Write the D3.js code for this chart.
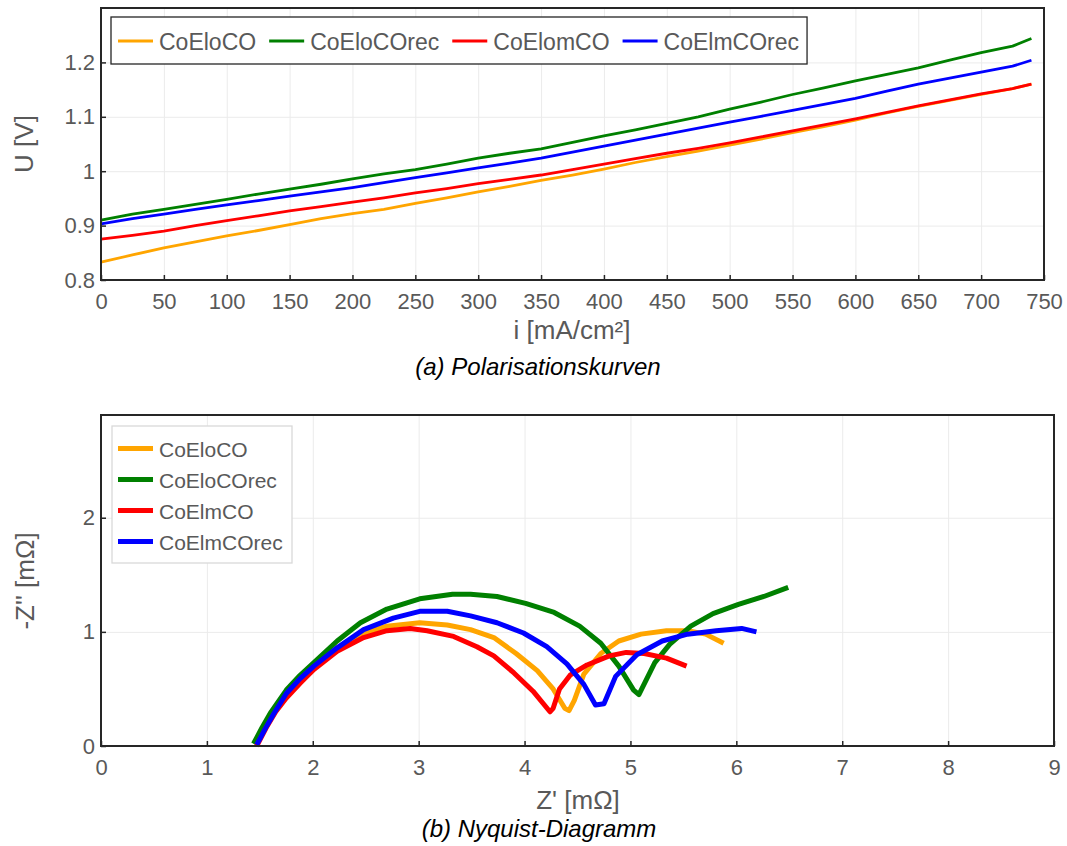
<!DOCTYPE html>
<html>
<head>
<meta charset="utf-8">
<script src="https://cdn.jsdelivr.net/npm/d3@7"></script>
<style>
  body { margin: 0; background: #fff; }
  svg { display: block; font-family: "Liberation Sans", Arial, sans-serif; }
</style>
</head>
<body>
<svg id="chart" width="1067" height="846"></svg>
<script>
// series names + colours
const names = ["CoEloCO", "CoEloCOrec", "CoElomCO", "CoElmCOrec"];
const names2 = ["CoEloCO", "CoEloCOrec", "CoElmCO", "CoElmCOrec"];
const colors = ["#ffa500", "#008000", "#ff0000", "#0000ff"];

// (a) polarisation curves, current density in mA/cm2
const iVals = [0, 25, 50, 75, 100, 125, 150, 175, 200, 225, 250, 275, 300, 325, 350, 375,
               400, 425, 450, 475, 500, 525, 550, 575, 600, 625, 650, 675, 700, 725, 740];
const uCoEloCO = [0.833, 0.846, 0.859, 0.870, 0.881, 0.891, 0.902, 0.913, 0.922, 0.930, 0.941, 0.951,
                  0.962, 0.972, 0.983, 0.993, 1.004, 1.016, 1.027, 1.037, 1.048, 1.059, 1.071, 1.082,
                  1.094, 1.107, 1.119, 1.130, 1.141, 1.152, 1.160];
const uCoEloCOrec = [0.910, 0.921, 0.930, 0.939, 0.948, 0.958, 0.967, 0.976, 0.986, 0.995, 1.003, 1.013,
                     1.024, 1.033, 1.041, 1.053, 1.065, 1.076, 1.088, 1.100, 1.114, 1.127, 1.141, 1.153,
                     1.166, 1.178, 1.190, 1.204, 1.218, 1.230, 1.244];
const uCoElomCO = [0.875, 0.882, 0.890, 0.900, 0.909, 0.918, 0.927, 0.935, 0.943, 0.951, 0.960, 0.968,
                   0.977, 0.985, 0.993, 1.003, 1.013, 1.023, 1.033, 1.042, 1.052, 1.063, 1.074, 1.085,
                   1.096, 1.108, 1.120, 1.131, 1.142, 1.152, 1.160];
const uCoElmCOrec = [0.903, 0.913, 0.921, 0.930, 0.938, 0.946, 0.954, 0.962, 0.970, 0.979, 0.988, 0.997,
                     1.006, 1.015, 1.024, 1.035, 1.046, 1.057, 1.068, 1.079, 1.090, 1.101, 1.112, 1.123,
                     1.134, 1.147, 1.160, 1.171, 1.182, 1.193, 1.204];
const xTicksA = [0, 50, 100, 150, 200, 250, 300, 350, 400, 450, 500, 550, 600, 650, 700, 750];
const yTicksA = [0.8, 0.9, 1.0, 1.1, 1.2];

// (b) nyquist, Z' and -Z'' in mOhm
const zReCoEloCO = [1.46, 1.55, 1.65, 1.75, 1.88, 2.01, 2.23, 2.45, 2.70, 3.01, 3.27, 3.49, 3.71, 3.92,
                    4.12, 4.27, 4.38, 4.42, 4.47, 4.56, 4.72, 4.89, 5.10, 5.34, 5.54, 5.71, 5.88];
const zImCoEloCO = [0.01, 0.17, 0.31, 0.43, 0.56, 0.68, 0.86, 0.98, 1.05, 1.08, 1.06, 1.02, 0.95, 0.81,
                    0.66, 0.50, 0.33, 0.31, 0.40, 0.63, 0.81, 0.92, 0.98, 1.01, 1.01, 0.98, 0.90];
const zReCoEloCOrec = [1.44, 1.52, 1.60, 1.75, 1.88, 2.01, 2.23, 2.45, 2.70, 3.01, 3.32, 3.49, 3.74, 4.01,
                       4.28, 4.52, 4.72, 4.89, 5.03, 5.08, 5.23, 5.37, 5.57, 5.78, 6.02, 6.26, 6.49];
const zImCoEloCOrec = [0.02, 0.16, 0.29, 0.49, 0.62, 0.73, 0.92, 1.08, 1.20, 1.29, 1.33, 1.33, 1.31, 1.25,
                       1.17, 1.05, 0.90, 0.70, 0.49, 0.45, 0.73, 0.89, 1.05, 1.16, 1.24, 1.31, 1.39];
const zReCoElmCO = [1.47, 1.56, 1.65, 1.75, 1.88, 2.01, 2.23, 2.48, 2.70, 2.92, 3.08, 3.33, 3.55, 3.71,
                    3.90, 4.08, 4.24, 4.27, 4.33, 4.43, 4.59, 4.80, 4.96, 5.13, 5.34, 5.53];
const zImCoElmCO = [0.00, 0.16, 0.30, 0.42, 0.55, 0.67, 0.83, 0.95, 1.01, 1.03, 1.01, 0.96, 0.87, 0.79,
                    0.64, 0.48, 0.30, 0.33, 0.50, 0.62, 0.71, 0.79, 0.82, 0.81, 0.77, 0.70];
const zReCoElmCOrec = [1.47, 1.55, 1.63, 1.75, 1.88, 2.01, 2.23, 2.48, 2.76, 3.01, 3.27, 3.49, 3.74, 3.99,
                       4.21, 4.40, 4.56, 4.67, 4.75, 4.86, 5.06, 5.30, 5.54, 5.81, 6.05, 6.19];
const zImCoElmCOrec = [0.01, 0.15, 0.28, 0.46, 0.59, 0.70, 0.86, 1.02, 1.12, 1.18, 1.18, 1.14, 1.08, 0.99,
                       0.87, 0.72, 0.54, 0.36, 0.37, 0.61, 0.80, 0.92, 0.98, 1.01, 1.03, 1.00];
const xTicksB = [0, 1, 2, 3, 4, 5, 6, 7, 8, 9];
const yTicksB = [0, 1, 2];

const txtCol = "#595959";
const svg = d3.select("#chart");

// draws grid, ticks for one panel
function panel(x, y, xt, yt, yfmt) {
    let [x0, x1] = x.range(), [y0, y1] = y.range();
    let g = svg.append("g");

    // grid
    g.append("g").attr("transform", `translate(0,${y0})`)
        .call(d3.axisBottom(x).tickValues(xt).tickSize(-(y0 - y1)).tickFormat(""))
        .call(a => a.select(".domain").remove())
        .selectAll("line").attr("stroke", "#ebebeb");
    g.append("g").attr("transform", `translate(${x0},0)`)
        .call(d3.axisLeft(y).tickValues(yt).tickSize(-(x1 - x0)).tickFormat(""))
        .call(a => a.select(".domain").remove())
        .selectAll("line").attr("stroke", "#ebebeb");

    // axes with inward ticks
    let ax = g.append("g").attr("transform", `translate(0,${y0})`)
        .call(d3.axisBottom(x).tickValues(xt).tickSize(-5).tickPadding(13));
    let ay = g.append("g").attr("transform", `translate(${x0},0)`)
        .call(d3.axisLeft(y).tickValues(yt).tickSize(-5).tickPadding(6).tickFormat(yfmt));
    [ax, ay].forEach(a => {
        a.select(".domain").remove();
        a.selectAll("line").attr("stroke", "#262626").attr("stroke-width", 1.5);
        a.selectAll("text").attr("fill", txtCol).style("font-size", "22px")
            .style("font-family", '"Liberation Sans", Arial, sans-serif');
    });
    return g;
}

function frame(x, y) {
    let [x0, x1] = x.range(), [y0, y1] = y.range();
    svg.append("rect").attr("x", x0).attr("y", y1)
        .attr("width", x1 - x0).attr("height", y0 - y1)
        .attr("fill", "none").attr("stroke", "#262626").attr("stroke-width", 2);
}

// ---------- (a) ----------
let xA = d3.scaleLinear().domain([0, 750]).range([101, 1044]);
let yA = d3.scaleLinear().domain([0.8, 1.3]).range([280, 8]);
panel(xA, yA, xTicksA, yTicksA, d3.format("~g"));

let seriesA = [uCoEloCO, uCoEloCOrec, uCoElomCO, uCoElmCOrec];
let lineA = d3.line().x(d => xA(d[0])).y(d => yA(d[1]));
seriesA.forEach((s, k) => {
    svg.append("path")
        .datum(iVals.map((v, j) => [v, s[j]]))
        .attr("fill", "none")
        .attr("stroke", colors[k])
        .attr("stroke-width", 2.8)
        .attr("stroke-linejoin", "round")
        .attr("d", lineA);
});
frame(xA, yA);

// legend (a), horizontal
let legA = svg.append("g");
let legBox = legA.append("rect").attr("x", 111).attr("y", 17).attr("width", 706).attr("height", 47)
    .attr("fill", "#fff").attr("stroke", "#262626").attr("stroke-width", 1.3);
let lx = 118;
names.forEach((n, k) => {
    legA.append("line").attr("x1", lx).attr("x2", lx + 35).attr("y1", 41).attr("y2", 41)
        .attr("stroke", colors[k]).attr("stroke-width", 2.8);
    let t = legA.append("text").attr("x", lx + 41).attr("y", 50)
        .attr("fill", txtCol).style("font-size", "23px").text(n);
    lx = lx + 41 + t.node().getComputedTextLength() + 13;
});
legBox.attr("width", lx - 111 - 5);

svg.append("text").attr("x", 572).attr("y", 339).attr("text-anchor", "middle")
    .attr("fill", txtCol).style("font-size", "26px").text("i [mA/cm²]");
svg.append("text").attr("transform", "translate(33,144) rotate(-90)").attr("text-anchor", "middle")
    .attr("fill", txtCol).style("font-size", "26px").text("U [V]");
svg.append("text").attr("x", 538).attr("y", 375).attr("text-anchor", "middle")
    .attr("fill", "#000").style("font-size", "24px").style("font-style", "italic")
    .text("(a) Polarisationskurven");

// ---------- (b) ----------
let xB = d3.scaleLinear().domain([0, 9]).range([101, 1054]);
let yB = d3.scaleLinear().domain([0, 2.9]).range([746, 415]);
panel(xB, yB, xTicksB, yTicksB, d3.format("d"));

let seriesB = [[zReCoEloCO, zImCoEloCO], [zReCoEloCOrec, zImCoEloCOrec],
               [zReCoElmCO, zImCoElmCO], [zReCoElmCOrec, zImCoElmCOrec]];
let lineB = d3.line().x(d => xB(d[0])).y(d => yB(d[1]));
seriesB.forEach((s, k) => {
    svg.append("path")
        .datum(s[0].map((v, j) => [v, s[1][j]]))
        .attr("fill", "none")
        .attr("stroke", colors[k])
        .attr("stroke-width", 5)
        .attr("stroke-linejoin", "round")
        .attr("d", lineB);
});
frame(xB, yB);

// legend (b), vertical
let legB = svg.append("g");
legB.append("rect").attr("x", 112).attr("y", 426).attr("width", 180).attr("height", 137)
    .attr("fill", "#fff").attr("stroke", "#d9d9d9").attr("stroke-width", 1.3);
names2.forEach((n, k) => {
    let ly = 448.5 + k * 31;
    legB.append("line").attr("x1", 118).attr("x2", 153).attr("y1", ly).attr("y2", ly)
        .attr("stroke", colors[k]).attr("stroke-width", 5);
    legB.append("text").attr("x", 159).attr("y", ly + 8)
        .attr("fill", txtCol).style("font-size", "21px").text(n);
});

svg.append("text").attr("x", 578).attr("y", 809).attr("text-anchor", "middle")
    .attr("fill", txtCol).style("font-size", "26px").text("Z' [mΩ]");
svg.append("text").attr("transform", "translate(34,581) rotate(-90)").attr("text-anchor", "middle")
    .attr("fill", txtCol).style("font-size", "26px").text("-Z'' [mΩ]");
svg.append("text").attr("x", 539).attr("y", 837).attr("text-anchor", "middle")
    .attr("fill", "#000").style("font-size", "24px").style("font-style", "italic")
    .text("(b) Nyquist-Diagramm");
</script>
</body>
</html>
